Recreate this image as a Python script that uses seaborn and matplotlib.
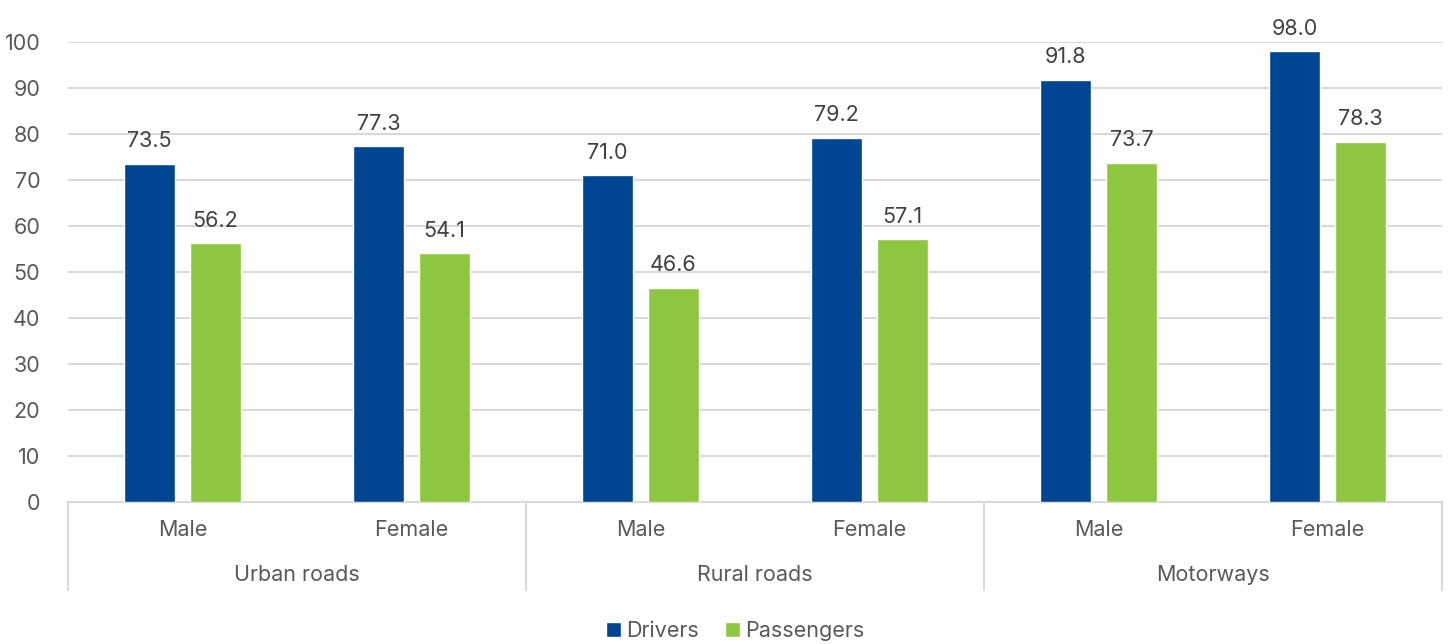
import matplotlib
matplotlib.use("Agg")
import matplotlib.pyplot as plt
import seaborn as sns
import pandas as pd

# Data
road_types = ["Urban roads", "Rural roads", "Motorways"]
sexes = ["Male", "Female"]
series = ["Drivers", "Passengers"]
drivers = [73.5, 77.3, 71.0, 79.2, 91.8, 98.0]
passengers = [56.2, 54.1, 46.6, 57.1, 73.7, 78.3]
y_ticks = [0, 10, 20, 30, 40, 50, 60, 70, 80, 90, 100]

colors = {"Drivers": "#004592", "Passengers": "#8DC63F"}
text_color = "#595959"
label_color = "#404040"
grid_color = "#D9D9D9"
fs = 15.5

categories = [f"{r}|{s}" for r in road_types for s in sexes]
df = pd.DataFrame({
    "category": categories * 2,
    "series": ["Drivers"] * len(categories) + ["Passengers"] * len(categories),
    "value": drivers + passengers,
})

sns.set_theme(style="white")
plt.rcParams["font.family"] = ["Inter", "DejaVu Sans"]

fig = plt.figure(figsize=(14.54, 6.44), dpi=100)
ax = fig.add_axes([68 / 1454, 1 - 502 / 644, (1442 - 68) / 1454, (502 - 42) / 644])

sns.barplot(data=df, x="category", y="value", hue="series", order=categories,
            hue_order=series, palette=colors, width=0.577, gap=0.226,
            saturation=1, errorbar=None, ax=ax, legend=True, zorder=3)

ax.set_xlim(-0.5, len(categories) - 0.5)
ax.set_ylim(0, 100)
ax.set_yticks(y_ticks)
ax.set_yticklabels([str(t) for t in y_ticks], fontsize=fs, color=text_color)
ax.tick_params(axis="y", length=0, pad=20)
ax.yaxis.grid(True, color=grid_color, linewidth=1.5, zorder=0)
ax.set_axisbelow(True)
for s in ["top", "right", "left"]:
    ax.spines[s].set_visible(False)
ax.spines["bottom"].set_color(grid_color)
ax.spines["bottom"].set_linewidth(1.5)
ax.set_xlabel("")
ax.set_ylabel("")

# Value labels
for container in ax.containers:
    ax.bar_label(container, fmt="%.1f", padding=9, fontsize=fs,
                 color=label_color, clip_on=False)

# Hierarchical x-axis labels
ax.set_xticks(range(len(categories)))
ax.set_xticklabels([c.split("|")[1] for c in categories], fontsize=fs,
                   color=text_color)
ax.tick_params(axis="x", length=0, pad=13)

trans = ax.get_xaxis_transform()
sep_len = 88 / 460
for i in range(len(road_types) + 1):
    x = i * len(sexes) - 0.5
    ax.plot([x, x], [0, -sep_len], transform=trans, color=grid_color,
            linewidth=1.5, clip_on=False)
for i, r in enumerate(road_types):
    xc = i * len(sexes) + (len(sexes) - 1) / 2
    ax.text(xc, -73 / 460, r, transform=trans, ha="center", va="center",
            fontsize=fs, color=text_color)

# Legend
handles, labels = ax.get_legend_handles_labels()
ax.get_legend().remove()
fig.legend(handles, labels, loc="center", bbox_to_anchor=(735 / 1454, 1 - 631 / 644),
           ncol=2, frameon=False, fontsize=fs, handlelength=0.7, handleheight=0.7,
           handletextpad=0.25, columnspacing=1.2, labelcolor=text_color)

fig.savefig("out.png", dpi=100)
